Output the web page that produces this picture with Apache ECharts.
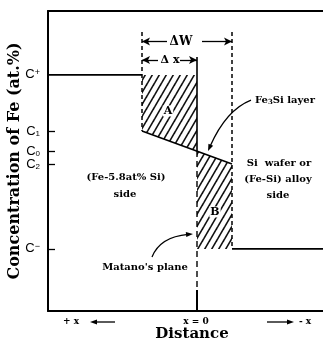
<!DOCTYPE html>
<html><head><meta charset="utf-8">
<script src="https://cdn.jsdelivr.net/npm/echarts@6/dist/echarts.min.js"></script>
<style>html,body{margin:0;padding:0;background:#fff}#c{width:323px;height:349px}</style>
</head><body><div id="c"></div><script>
// ---- data (distance in arbitrary units, +x to the left; concentration in arbitrary at.% units)
const distanceRange = [-12.6, 14.9];
const concRange = [0, 100];
const tickValues = [78.7, 60, 53.3, 49, 20.7];          // C+, C1, C0, C2, C-
const tickNames = ['C+', 'C1', 'C0', 'C2', 'C-'];
const innerTickValues = [60, 53.3, 49, 20.7];
const profileLeft = [[14.9, 78.7], [5.5, 78.7]];
const profileLayer = [[5.5, 60], [-3.5, 49]];
const profileRight = [[-3.5, 20.7], [-12.6, 20.7]];
const regionA = [[5.5, 78.7], [0, 78.7], [0, 53.3], [5.5, 60]];
const regionB = [[0, 53.3], [-3.5, 49], [-3.5, 20.7], [0, 20.7]];
const dashedLeft = [[5.5, 93], [5.5, 60]];
const dashedRight = [[-3.5, 93], [-3.5, 20.7]];
const matanoSolidTop = [[0, 84.7], [0, 53.3]];
const matanoDashed = [[0, 53.3], [0, 7]];
const matanoSolidBottom = [[0, 7], [0, 0]];
const deltaW = [[5.5, 89.8], [3.0, 89.8], [-0.5, 89.8], [-3.5, 89.8]];
const deltaX = [[5.5, 83.7], [3.9, 83.7], [1.7, 83.7], [0, 83.7]];
const fe3siArrow = [[-5.4, 70.3], [-2.9, 67], [-1.1, 53.3]];     // start, control, end
const matanoArrow = [[4.5, 18], [3.7, 24.7], [0.4, 25.7]];

// ---- rendering
const chart = echarts.init(document.getElementById('c'), null, {renderer: 'canvas'});

function hatchCanvas() {
  const c = document.createElement('canvas');
  c.width = 7; c.height = 12;
  const g = c.getContext('2d');
  g.strokeStyle = '#111'; g.lineWidth = 1.6; g.lineCap = 'butt';
  [-7, 0, 7].forEach(o => {
    g.beginPath(); g.moveTo(o - 2, 12 + 24 / 7); g.lineTo(o + 7 + 2, -24 / 7); g.stroke();
  });
  return c;
}
const hatch = {image: hatchCanvas(), repeat: 'repeat'};

function lineSeries(data, width, dash) {
  return {type: 'line', data: data, showSymbol: false, silent: true, animation: false,
    lineStyle: {color: '#000', width: width, type: dash || 'solid'}, z: 3};
}
function polySeries(points) {
  return {type: 'custom', coordinateSystem: 'cartesian2d', data: [0], silent: true, animation: false, z: 1,
    renderItem: (params, api) => ({type: 'polygon', shape: {points: points.map(p => api.coord(p))},
      style: {fill: hatch, stroke: null}})};
}
function curveArrowSeries(pts) {
  return {type: 'custom', coordinateSystem: 'cartesian2d', data: [0], silent: true, animation: false, z: 5,
    renderItem: (params, api) => {
      const [s, c, e] = pts.map(p => api.coord(p));
      const dx = e[0] - c[0], dy = e[1] - c[1], L = Math.hypot(dx, dy);
      const ux = dx / L, uy = dy / L, len = 7, hw = 2.6;
      const bx = e[0] - ux * len, by = e[1] - uy * len;
      return {type: 'group', children: [
        {type: 'bezierCurve', shape: {x1: s[0], y1: s[1], cpx1: c[0], cpy1: c[1], x2: bx + ux * 2, y2: by + uy * 2},
          style: {stroke: '#000', lineWidth: 1.3, fill: null}},
        {type: 'polygon', shape: {points: [e, [bx - uy * hw, by + ux * hw], [bx + uy * hw, by - ux * hw]]},
          style: {fill: '#000'}}
      ]};
    }};
}
function ml(a, b, symA, symB) {
  return [{coord: a, symbol: symA, symbolSize: [6, 8]}, {coord: b, symbol: symB, symbolSize: [6, 8]}];
}

const rich = {
  c: {fontSize: 13, fontFamily: 'Liberation Sans', color: '#000', lineHeight: 14, verticalAlign: 'middle'},
  sub: {fontSize: 8, fontFamily: 'Liberation Sans', color: '#000', verticalAlign: 'bottom', lineHeight: 8},
  sup: {fontSize: 9, fontFamily: 'Liberation Sans', color: '#000', verticalAlign: 'top', lineHeight: 9}
};
function tickFmt(v) {
  let i = tickValues.findIndex(t => Math.abs(t - v) < 0.01);
  if (i < 0) return '';
  const s = tickNames[i].slice(1);
  if (s === '+') return '{c|C}{sup|+}';
  if (s === '-') return '{c|C}{sup|\u2212}';
  return '{c|C}{sub|' + s + '}';
}

const serifB = {fontFamily: 'DejaVu Serif', fontWeight: 'bold', fill: '#000'};
function txt(x, y, text, size, extra) {
  return {type: 'text', x: x, y: y, silent: true, z: 10,
    style: Object.assign({text: text, fontSize: size, align: 'center', verticalAlign: 'middle'}, serifB, extra || {})};
}
function arrowG(x1, x2, y) {
  const dir = x2 > x1 ? 1 : -1;
  return [{type: 'line', silent: true, shape: {x1: x1, y1: y, x2: x2 - dir * 5, y2: y}, style: {stroke: '#000', lineWidth: 1.3}},
    {type: 'polygon', silent: true, shape: {points: [[x2, y], [x2 - dir * 7, y - 2.5], [x2 - dir * 7, y + 2.5]]}, style: {fill: '#000'}}];
}

const option = {
  animation: false,
  backgroundColor: '#fff',
  grid: {left: 48, right: 0, top: 11, bottom: 38, containLabel: false, outerBoundsMode: 'none'},
  xAxis: [
    {type: 'value', min: distanceRange[0], max: distanceRange[1], inverse: true,
      axisLine: {show: true, onZero: false, lineStyle: {color: '#000', width: 2}},
      axisTick: {show: false}, axisLabel: {show: false}, splitLine: {show: false}},
    {type: 'value', position: 'top', min: distanceRange[0], max: distanceRange[1], inverse: true,
      axisLine: {show: true, onZero: false, lineStyle: {color: '#000', width: 2}},
      axisTick: {show: false}, axisLabel: {show: false}, splitLine: {show: false}}
  ],
  yAxis: {type: 'value', min: concRange[0], max: concRange[1],
    name: 'Concentration of Fe (at.%)', nameLocation: 'middle', nameRotate: 90, nameGap: 25, nameMoveOverlap: false,
    nameTextStyle: {fontFamily: 'DejaVu Serif', fontWeight: 'bold', fontSize: 16, color: '#000'},
    axisLine: {show: true, onZero: false, lineStyle: {color: '#000', width: 2}},
    axisTick: {show: true, inside: true, length: 7, customValues: innerTickValues, lineStyle: {color: '#000', width: 1.3}},
    axisLabel: {show: true, customValues: tickValues, margin: 8, formatter: tickFmt, rich: rich},
    splitLine: {show: false}},
  series: [
    polySeries(regionA),
    polySeries(regionB),
    lineSeries(profileLeft, 1.6),
    lineSeries(profileLayer, 1.6),
    lineSeries(profileRight, 1.6),
    lineSeries(dashedLeft, 1.5, [4, 3]),
    lineSeries(dashedRight, 1.5, [4, 3]),
    lineSeries(matanoSolidTop, 1.6),
    lineSeries(matanoDashed, 1.4, [6, 4]),
    Object.assign(lineSeries(matanoSolidBottom, 2), {
      markLine: {silent: true, animation: false, label: {show: false}, emphasis: {disabled: true},
        lineStyle: {color: '#000', width: 1.3, type: 'solid'},
        data: [
          ml(deltaW[0], deltaW[1], 'arrow', 'none'),
          ml(deltaW[2], deltaW[3], 'none', 'arrow'),
          ml(deltaX[0], deltaX[1], 'arrow', 'none'),
          ml(deltaX[2], deltaX[3], 'none', 'arrow')
        ]}
    }),
    curveArrowSeries(fe3siArrow),
    curveArrowSeries(matanoArrow)
  ],
  graphic: [
    txt(181, 42, '\u0394W', 12),
    txt(170, 60, '\u0394 x', 11),
    txt(168, 111, 'A', 11, {backgroundColor: '#fff', padding: [0, 1]}),
    txt(215, 212, 'B', 11, {backgroundColor: '#fff', padding: [0, 1]}),
    {type: 'text', x: 285, y: 100, silent: true, z: 10, style: Object.assign({
      text: '{n|Fe}{s|3}{n|Si layer}', align: 'center', verticalAlign: 'middle',
      rich: {n: Object.assign({fontSize: 10, verticalAlign: 'middle', lineHeight: 12}, serifB),
        s: Object.assign({fontSize: 7, verticalAlign: 'bottom', lineHeight: 7}, serifB)}}, serifB)},
    txt(126, 177, '(Fe-5.8at% Si)', 10),
    txt(125, 194, 'side', 10),
    txt(279, 163, 'Si  wafer or', 10),
    txt(278, 179, '(Fe-Si) alloy', 10),
    txt(278, 195, 'side', 10),
    txt(145, 267, "Matano's plane", 10),
    txt(71, 322, '+ x', 9),
    txt(196, 322, 'x = 0', 9),
    txt(305, 322, '- x', 9),
    ...arrowG(115, 90, 322),
    ...arrowG(267, 294, 322),
    txt(192, 334, 'Distance', 15)
  ]
};
chart.setOption(option);
</script></body></html>
